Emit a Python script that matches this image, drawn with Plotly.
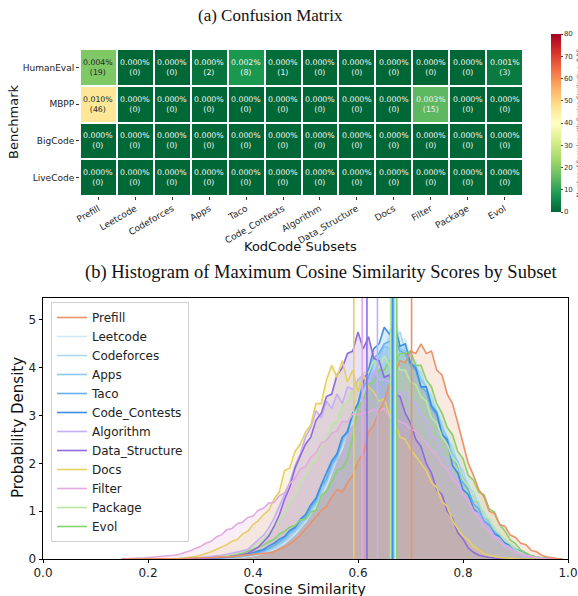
import plotly.graph_objects as go
from plotly.colors import sample_colorscale

# ---------------- data: heatmap ----------------
subsets = ["Prefill", "Leetcode", "Codeforces", "Apps", "Taco", "Code_Contests",
           "Algorithm", "Data_Structure", "Docs", "Filter", "Package", "Evol"]
benchmarks = ["HumanEval", "MBPP", "BigCode", "LiveCode"]
counts_humaneval = [19, 0, 0, 2, 8, 1, 0, 0, 0, 0, 0, 3]
counts_mbpp = [46, 0, 0, 0, 0, 0, 0, 0, 0, 15, 0, 0]
counts_bigcode = [0] * 12
counts_livecode = [0] * 12
pct_humaneval = [0.004, 0.000, 0.000, 0.000, 0.002, 0.000, 0.000, 0.000, 0.000, 0.000, 0.000, 0.001]
pct_mbpp = [0.010, 0.000, 0.000, 0.000, 0.000, 0.000, 0.000, 0.000, 0.000, 0.003, 0.000, 0.000]
pct_bigcode = [0.0] * 12
pct_livecode = [0.0] * 12
cbar_ticks = [0, 10, 20, 30, 40, 50, 60, 70, 80]

# ---------------- data: histogram (density per 0.01 bin, 0.15 .. 0.99) ----------------
bin_start, bin_step, n_bins = 0.15, 0.01, 85
series_names = subsets
prefill = [0,0,0,0,0, 0,0,0,0,0.01, 0.01,0.01,0.01,0.02,0.02, 0.02,0.03,0.03,0.04,0.04,
           0.05,0.05,0.06,0.07,0.08, 0.09,0.1,0.12,0.13,0.15, 0.2,0.25,0.32,0.4,0.5,
           0.62,0.75,0.88,1.02,1.1, 1.3,1.45,1.4,1.6,1.75, 2.05,2.2,2.65,2.8,3.1,
           3.3,3.65,3.85,4.15,4.1, 4.35,4.3,4.5,4.3,4.35, 3.95,3.85,3.45,3.25,2.85,
           2.45,2.0,1.75,1.45,1.3, 1.0,0.95,0.72,0.68,0.5, 0.45,0.33,0.3,0.18,0.15,
           0.08,0.04,0.02,0.01,0]
leetcode = [0,0,0,0,0, 0,0,0,0,0, 0,0,0,0,0, 0,0,0.01,0.01,0.01,
            0.02,0.02,0.03,0.04,0.05, 0.07,0.09,0.12,0.15,0.2, 0.26,0.33,0.42,0.52,0.65,
            0.78,0.95,1.08,1.32,1.52, 1.8,2.1,2.3,2.7,2.85, 3.25,3.4,3.85,3.95,4.4,
            4.45,4.8,5.1,4.55,4.6, 4.2,4.15,3.85,3.7,3.35, 3.2,2.8,2.65,2.3,2.15,
            1.8,1.65,1.35,1.25,0.98, 0.82,0.63,0.54,0.38,0.31, 0.21,0.16,0.1,0.06,0.03,
            0.02,0.01,0,0,0]
codeforces = [0,0,0,0,0, 0,0,0,0,0, 0,0,0,0,0, 0,0.01,0.01,0.01,0.02,
              0.02,0.03,0.04,0.05,0.06, 0.08,0.1,0.13,0.17,0.22, 0.28,0.36,0.44,0.57,0.66,
              0.82,0.93,1.18,1.33,1.63, 1.82,2.15,2.35,2.7,2.9, 3.25,3.45,3.8,3.95,4.3,
              4.4,4.65,4.6,4.75,4.35, 4.3,4.0,3.9,3.55,3.4, 3.05,2.85,2.5,2.35,2.0,
              1.85,1.5,1.4,1.1,0.98, 0.75,0.66,0.48,0.42,0.29, 0.22,0.15,0.1,0.06,0.03,
              0.02,0.01,0,0,0]
apps = [0,0,0,0,0, 0,0,0,0,0, 0,0,0,0,0, 0.01,0.01,0.01,0.02,0.02,
        0.03,0.03,0.04,0.05,0.07, 0.09,0.12,0.15,0.2,0.26, 0.33,0.39,0.52,0.58,0.74,
        0.83,1.03,1.17,1.43,1.62, 1.95,2.1,2.45,2.65,3.0, 3.2,3.55,3.75,4.1,4.2,
        4.45,4.4,4.6,4.4,4.35, 4.1,4.05,3.75,3.6,3.25, 3.1,2.75,2.55,2.2,2.05,
        1.7,1.55,1.25,1.15,0.88, 0.78,0.6,0.52,0.38,0.31, 0.21,0.16,0.1,0.06,0.03,
        0.02,0.01,0,0,0]
taco = [0,0,0,0,0, 0,0,0,0,0, 0,0,0,0,0, 0.01,0.01,0.01,0.02,0.02,
        0.03,0.04,0.05,0.06,0.08, 0.1,0.13,0.17,0.22,0.28, 0.36,0.44,0.56,0.64,0.8,
        0.88,1.08,1.22,1.53,1.67, 2.0,2.15,2.5,2.7,3.05, 3.25,3.6,3.8,4.2,4.3,
        4.5,4.55,4.6,4.35,4.3, 4.05,3.95,3.6,3.5,3.15, 3.0,2.65,2.45,2.1,1.95,
        1.6,1.45,1.15,1.05,0.8, 0.72,0.56,0.48,0.34,0.28, 0.19,0.15,0.09,0.05,0.03,
        0.02,0.01,0,0,0]
code_contests = [0,0,0,0,0, 0,0,0,0,0, 0,0,0,0,0, 0.01,0.01,0.02,0.02,0.03,
                 0.04,0.05,0.06,0.08,0.1, 0.13,0.16,0.2,0.27,0.33, 0.41,0.47,0.6,0.66,0.83,
                 0.93,1.13,1.27,1.55,1.8, 2.05,2.2,2.55,2.65,3.05, 3.25,3.7,3.95,4.4,4.5,
                 4.85,4.7,4.9,4.45,4.5, 4.1,4.0,3.6,3.6,3.2, 3.05,2.6,2.5,1.95,1.8,
                 1.45,1.35,1.05,0.95,0.76, 0.68,0.52,0.47,0.34,0.29, 0.19,0.16,0.09,0.06,0.04,
                 0.02,0.01,0,0,0]
algorithm = [0,0,0,0,0, 0,0,0,0,0, 0.01,0.01,0.02,0.02,0.03, 0.03,0.04,0.05,0.06,0.08,
             0.1,0.12,0.14,0.17,0.2, 0.3,0.4,0.5,0.65,0.85, 1.1,1.35,1.6,1.95,2.2,
             2.55,2.75,3.1,2.95,3.3, 3.15,3.45,3.25,3.6,3.55, 3.75,3.85,3.7,3.95,3.75,
             3.75,3.7,3.65,3.45,3.5, 3.3,3.25,3.0,2.9,2.55, 2.5,2.15,2.05,1.75,1.65,
             1.35,1.25,1.0,0.95,0.75, 0.67,0.48,0.42,0.28,0.23, 0.14,0.1,0.06,0.04,0.02,
             0.01,0,0,0,0]
data_structure = [0,0,0,0,0, 0,0,0,0,0, 0,0,0,0,0, 0.01,0.01,0.02,0.02,0.03,
                  0.04,0.05,0.07,0.09,0.12, 0.18,0.25,0.36,0.48,0.68, 0.92,1.25,1.5,1.9,2.15,
                  2.4,2.55,2.9,3.05,3.4, 3.45,3.85,4.0,4.3,4.35, 4.75,4.4,4.65,4.2,4.15,
                  3.8,3.85,3.45,3.4,3.05, 2.85,2.5,2.35,2.0,1.8, 1.45,1.35,1.0,0.85,0.55,
                  0.42,0.23,0.14,0.08,0.05, 0.03,0.02,0.01,0.01,0, 0,0,0,0,0,
                  0,0,0,0,0]
docs = [0,0,0,0,0, 0,0,0,0.01,0.01, 0.01,0.01,0.02,0.03,0.05, 0.08,0.11,0.15,0.2,0.25,
        0.3,0.37,0.41,0.52,0.58, 0.72,0.8,0.93,1.02,1.25, 1.4,1.85,1.9,2.25,2.4,
        2.65,2.8,3.25,3.25,3.75, 4.05,3.8,4.15,3.7,3.95, 3.5,3.85,3.6,3.5,3.3,
        3.35,3.0,2.9,2.55,2.5, 2.3,2.15,2.0,1.85,1.6, 1.5,1.2,1.1,0.8,0.65,
        0.48,0.4,0.26,0.2,0.11, 0.08,0.05,0.03,0.02,0.01, 0,0,0,0,0,
        0,0,0,0,0]
filter_ = [0,0.01,0.01,0.02,0.02, 0.03,0.03,0.04,0.05,0.06, 0.08,0.1,0.13,0.17,0.22, 0.26,0.33,0.37,0.46,0.51,
           0.61,0.64,0.74,0.77,0.87, 0.9,1.02,1.06,1.17,1.18, 1.32,1.38,1.58,1.68,1.88,
           1.93,2.13,2.22,2.43,2.48, 2.63,2.68,2.88,2.87,3.03, 3.02,3.05,3.07,3.14,3.1,
           3.15,2.97,2.98,2.86,2.83, 2.72,2.68,2.52,2.43,2.27, 2.18,1.97,1.88,1.67,1.57,
           1.33,1.22,0.98,0.87,0.68, 0.57,0.43,0.37,0.26,0.21, 0.14,0.11,0.07,0.05,0.03,
           0.02,0.01,0,0,0]
package = [0,0,0,0,0, 0,0,0,0,0, 0.01,0.01,0.01,0.02,0.02, 0.03,0.03,0.04,0.05,0.06,
           0.08,0.1,0.12,0.16,0.2, 0.26,0.34,0.41,0.54,0.63, 0.82,0.93,1.18,1.32,1.58,
           1.72,1.98,2.07,2.38,2.52, 2.8,2.9,3.2,3.3,3.55, 3.65,3.9,3.9,4.15,4.0,
           4.25,4.05,4.2,3.95,3.95, 3.7,3.65,3.4,3.3,2.95, 2.85,2.55,2.4,2.1,2.0,
           1.65,1.55,1.25,1.2,0.9, 0.83,0.62,0.52,0.38,0.31, 0.19,0.14,0.08,0.05,0.03,
           0.01,0,0,0,0]
evol = [0,0,0,0,0, 0,0,0,0,0, 0,0.01,0.01,0.01,0.02, 0.02,0.03,0.03,0.04,0.05,
        0.06,0.08,0.1,0.12,0.16, 0.2,0.25,0.29,0.36,0.41, 0.52,0.58,0.67,0.7,0.82,
        0.83,0.98,1.02,1.33,1.42, 1.62,1.85,1.9,2.1,2.55, 3.15,3.35,3.65,3.7,3.95,
        3.95,4.15,4.1,4.3,4.3, 4.35,4.05,4.05,3.75,3.6, 3.25,3.05,2.75,2.6,2.25,
        2.1,1.75,1.65,1.4,1.35, 1.05,0.98,0.72,0.58,0.4, 0.32,0.19,0.13,0.07,0.04,
        0.02,0.01,0,0,0]
series_values = [prefill, leetcode, codeforces, apps, taco, code_contests,
                 algorithm, data_structure, docs, filter_, package, evol]
means = [0.702, 0.672, 0.669, 0.666, 0.667, 0.665, 0.637, 0.617, 0.592, 0.608, 0.662, 0.674]
colors = ["#E8936A", "#CDE9F5", "#A9D8EF", "#8EC8F2", "#66B0EE", "#3B8FE3",
          "#C6AEF5", "#8E6BE0", "#E6CF63", "#E2AADE", "#BCE6A6", "#86D26E"]
# stacking order of the translucent fills, bottom -> top
fill_order = ["Leetcode", "Codeforces", "Apps", "Taco", "Code_Contests", "Evol", "Package",
              "Algorithm", "Data_Structure", "Docs", "Filter", "Prefill"]

W, H = 578, 596
def px_x(p): return p / W
def px_y(p): return 1 - p / H

bins = [round(bin_start + i * bin_step, 3) for i in range(n_bins)]
for v in series_values:
    assert len(v) == n_bins, len(v)

def rgba(hexc, a):
    hexc = hexc.lstrip("#")
    r, g, b = int(hexc[0:2], 16), int(hexc[2:4], 16), int(hexc[4:6], 16)
    return f"rgba({r},{g},{b},{a})"

fig = go.Figure()

# ---------------- heatmap ----------------
z = [counts_humaneval, counts_mbpp, counts_bigcode, counts_livecode]
pcts = [pct_humaneval, pct_mbpp, pct_bigcode, pct_livecode]
fig.add_trace(go.Heatmap(
    z=z, x=subsets, y=benchmarks, xaxis="x", yaxis="y",
    colorscale="RdYlGn", reversescale=True, zmin=0, zmax=80,
    xgap=2, ygap=2, hoverinfo="skip",
    colorbar=dict(x=px_x(551), xanchor="left", xpad=0, y=px_y(123), yanchor="middle",
                  len=178 / H, lenmode="fraction", thickness=10, outlinewidth=0, ypad=0,
                  tickvals=cbar_ticks, ticks="outside", ticklen=2,
                  tickfont=dict(size=7, family="DejaVu Sans", color="#333"),
                  title=dict(text="Number of Samples with Cosine Similarity > 0.95",
                             side="right", font=dict(size=6, family="DejaVu Sans", color="#333"))),
))

def lum(rgbstr):
    vals = [float(t) / 255 for t in rgbstr[rgbstr.index("(") + 1:-1].split(",")]
    lin = [c / 12.92 if c <= 0.03928 else ((c + 0.055) / 1.055) ** 2.4 for c in vals]
    return 0.2126 * lin[0] + 0.7152 * lin[1] + 0.0722 * lin[2]

for bi, b in enumerate(benchmarks):
    for si, s in enumerate(subsets):
        val = z[bi][si]
        col = sample_colorscale("RdYlGn_r", [val / 80])[0]
        tc = "#262626" if lum(col) > 0.408 else "#f4f4f4"
        fig.add_annotation(x=s, y=b, xref="x", yref="y", showarrow=False,
                           text=f"{pcts[bi][si]:.3f}%<br>({val})",
                           font=dict(size=7.8, color=tc, family="DejaVu Sans"))

# ---------------- histogram ----------------
idx = {name: i for i, name in enumerate(series_names)}
for name in fill_order:
    i = idx[name]
    fig.add_trace(go.Scatter(x=bins, y=series_values[i], xaxis="x2", yaxis="y2", mode="lines",
                             line=dict(width=0, color=colors[i]), fill="tozeroy",
                             fillcolor=rgba(colors[i], 0.2), showlegend=False, hoverinfo="skip"))
for name in fill_order:
    i = idx[name]
    fig.add_trace(go.Scatter(x=bins, y=series_values[i], xaxis="x2", yaxis="y2", mode="lines",
                             line=dict(width=1.6, color=colors[i]), name=name,
                             legendrank=i + 1, hoverinfo="skip"))
for m, c in zip(means, colors):
    fig.add_shape(type="line", x0=m, x1=m, y0=0, y1=1, xref="x2", yref="y2 domain",
                  line=dict(color=c, width=1.6))

axis_font = dict(family="DejaVu Sans", color="#222")
fig.update_layout(
    width=W, height=H, margin=dict(l=0, r=0, t=0, b=0, autoexpand=False),
    paper_bgcolor="white", plot_bgcolor="white",
    font=dict(family="DejaVu Sans", color="#222"),
    xaxis=dict(domain=[px_x(80), px_x(523)], anchor="y", tickangle=-30,
               tickfont=dict(size=9, **axis_font), ticks="outside", ticklen=3,
               tickcolor="#333", showgrid=False, zeroline=False, automargin=False),
    yaxis=dict(domain=[px_y(196), px_y(49)], anchor="x", autorange="reversed",
               tickfont=dict(size=9, **axis_font), ticks="outside", ticklen=3,
               tickcolor="#333", showgrid=False, zeroline=False, automargin=False),
    xaxis2=dict(domain=[px_x(43), px_x(568)], anchor="y2", range=[0, 1],
                tickvals=[0, 0.2, 0.4, 0.6, 0.8, 1.0], ticktext=["0.0", "0.2", "0.4", "0.6", "0.8", "1.0"],
                tickfont=dict(size=12, **axis_font), ticks="outside", ticklen=3, tickcolor="black",
                showline=True, linecolor="black", linewidth=1, mirror=True,
                showgrid=False, zeroline=False, automargin=False),
    yaxis2=dict(domain=[px_y(559), px_y(298)], anchor="x2", range=[0, 5.46],
                tickvals=[0, 1, 2, 3, 4, 5],
                tickfont=dict(size=12, **axis_font), ticks="outside", ticklen=3.5, tickcolor="black",
                showline=True, linecolor="black", linewidth=1, mirror=True,
                showgrid=False, zeroline=False, automargin=False),
    legend=dict(x=px_x(51), y=px_y(302), xanchor="left", yanchor="top",
                bgcolor="rgba(255,255,255,0.85)", bordercolor="#d0d0d0", borderwidth=1,
                font=dict(size=12, family="DejaVu Sans", color="#222"),
                tracegroupgap=0, itemwidth=30, traceorder="normal"),
    showlegend=True,
)

def label(text, x, y, size, angle=0, family="DejaVu Sans"):
    fig.add_annotation(x=px_x(x), y=px_y(y), xref="paper", yref="paper", showarrow=False,
                       text=text, xanchor="center", yanchor="middle", textangle=angle,
                       font=dict(family=family, size=size, color="#111"))

label("(a) Confusion Matrix", 270, 16, 17, family="Liberation Serif")
label("(b) Histogram of Maximum Cosine Similarity Scores by Subset", 321, 272, 18.5, family="Liberation Serif")
label("KodCode Subsets", 300, 246, 13)
label("Benchmark", 14, 122, 13, angle=-90)
label("Cosine Similarity", 305, 589, 14.5)
label("Probability Density", 18, 428, 15, angle=-90)

fig.write_html("out.html", post_script="document.body.style.margin='0px';",
               config={"displayModeBar": False})
